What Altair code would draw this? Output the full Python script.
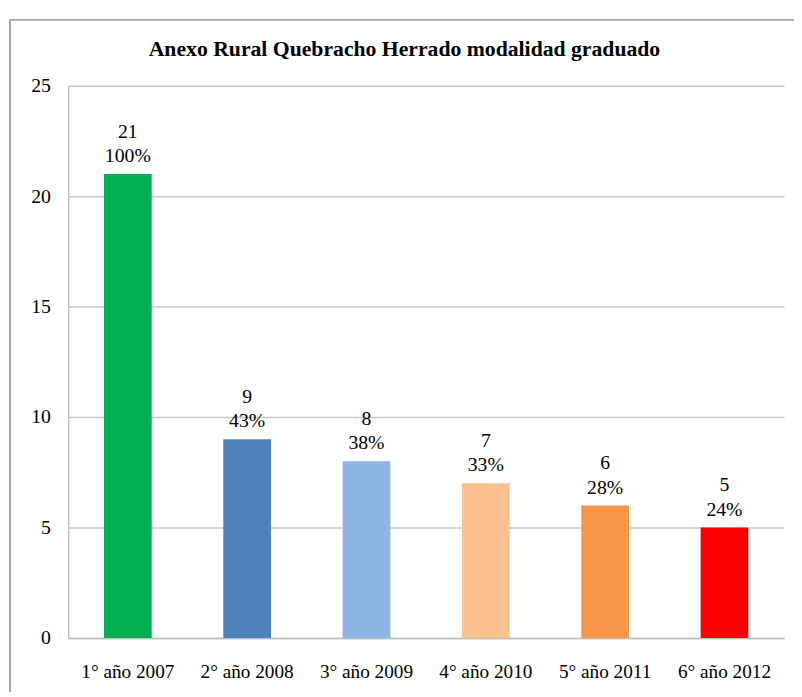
import altair as alt
import pandas as pd

categories = ["1° año 2007", "2° año 2008", "3° año 2009", "4° año 2010", "5° año 2011", "6° año 2012"]
values = [21, 9, 8, 7, 6, 5]
percents = [100, 43, 38, 33, 28, 24]
colors = ["#00B050", "#4F81BD", "#8EB4E3", "#FAC090", "#F79646", "#FF0000"]
title_text = "Anexo Rural Quebracho Herrado modalidad graduado"

df = pd.DataFrame({
    "cat": categories,
    "value": values,
    "pct": percents,
    "color": colors,
})
df["label"] = df["value"].astype(str) + "\n" + df["pct"].astype(str) + "%"

FONT = "'Liberation Serif', 'DejaVu Serif', serif"

x = alt.X("cat:N", sort=categories, title=None,
          scale=alt.Scale(paddingInner=0.6, paddingOuter=0.3),
          axis=alt.Axis(labelAngle=0, labelFont=FONT, labelFontSize=19.5, labelColor="#000",
                        domainColor="#bfbfbf", domainWidth=1.5, ticks=False, labelPadding=25,
                        grid=False))
y = alt.Y("value:Q", title=None,
          scale=alt.Scale(domain=[0, 25], nice=False),
          axis=alt.Axis(values=[0, 5, 10, 15, 20, 25], labelFont=FONT, labelFontSize=20,
                        labelColor="#000", domainColor="#bfbfbf", domainWidth=1.5,
                        ticks=False, labelPadding=18, grid=True, gridColor="#c8c8c8",
                        gridWidth=1.5))

bars = alt.Chart(df).mark_bar().encode(
    x=x, y=y, color=alt.Color("color:N", scale=None)
)

labels = alt.Chart(df).mark_text(
    font=FONT, fontSize=20, color="#000", baseline="alphabetic", dy=-37, lineHeight=25,
    lineBreak="\n"
).encode(
    x=alt.X("cat:N", sort=categories),
    y=alt.Y("value:Q"),
    text="label:N",
)

frame = alt.Chart(df).mark_rect(fill=None, stroke="#a6a6a6", strokeWidth=1.5).encode(
    x=alt.value(-59), x2=alt.value(900), y=alt.value(-67), y2=alt.value(900)
)

title = alt.Chart(pd.DataFrame({"t": [title_text]})).mark_text(
    font=FONT, fontSize=22, fontWeight="bold", color="#000", align="center",
    baseline="alphabetic"
).encode(
    x=alt.value(341), y=alt.value(-30), text="t:N"
)

chart = alt.layer(frame, bars, labels, title).properties(
    width=726, height=560,
    autosize=alt.AutoSizeParams(type="none"),
    padding={"left": 61, "top": 74, "right": 10, "bottom": 50},
).configure_view(stroke=None)

chart.save("out.html", embed_options={"renderer": "svg", "actions": False})
